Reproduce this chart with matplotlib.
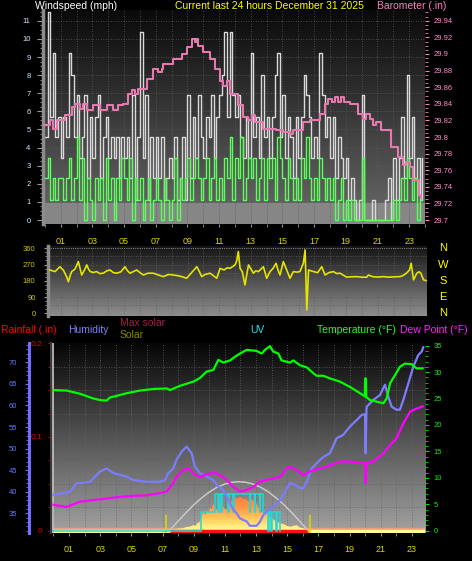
import numpy as np
import matplotlib
matplotlib.use("Agg")
import matplotlib.pyplot as plt
from matplotlib.colors import LinearSegmentedColormap
from matplotlib.ticker import MultipleLocator, FuncFormatter

plt.rcParams['font.family'] = ['Liberation Sans', 'DejaVu Sans']

# ---------------- data ----------------
# wind, one value every 10 minutes (mph)
gust_mph = [
    4.6, 11.5, 5.7, 9.2, 4.6, 5.7,   3.4, 5.7, 4.6, 9.2, 8.0, 4.6,
    6.9, 3.4, 4.6, 6.9, 2.3, 5.7,    3.4, 5.7, 6.9, 2.3, 4.6, 5.7,
    3.4, 4.6, 3.4, 4.6, 2.3, 4.6,    3.4, 4.6, 2.3, 6.9, 1.1, 4.6,
    10.4, 3.4, 6.9, 1.1, 4.6, 2.3,   4.6, 2.3, 4.6, 1.1, 2.3, 3.4,
    2.3, 4.6, 1.1, 2.3, 4.6, 1.1,    6.9, 2.3, 5.7, 3.4, 6.9, 4.6,
    3.4, 5.7, 4.6, 6.9, 3.4, 5.7,    6.9, 8.0, 10.4, 5.7, 10.4, 6.9,
    5.7, 6.9, 4.6, 3.4, 5.7, 3.4,    9.2, 4.6, 5.7, 3.4, 8.0, 4.6,
    5.7, 3.4, 5.7, 8.0, 9.2, 4.6,    6.9, 3.4, 5.7, 4.6, 2.3, 5.7,
    3.4, 5.7, 8.0, 6.9, 5.7, 3.4,    4.6, 3.4, 9.2, 6.9, 4.6, 5.7,
    3.4, 5.7, 2.3, 4.6, 3.4, 2.3,    3.4, 1.1, 2.3, 1.1, 0.0, 1.1,
    6.9, 0.0, 0.0, 0.0, 1.1, 0.0,    0.0, 0.0, 0.0, 1.1, 2.3, 0.0,
    3.4, 1.1, 3.4, 5.7, 2.3, 8.0,    3.4, 5.7, 2.3, 3.4, 1.1, 3.4,
]
avg_mph = [
    2.3, 3.4, 1.1, 2.3, 1.1, 2.3,    2.3, 1.1, 2.3, 3.4, 1.1, 2.3,
    4.6, 1.1, 3.4, 0.0, 2.3, 1.1,    0.0, 2.3, 1.1, 2.3, 0.0, 3.4,
    1.1, 2.3, 0.0, 2.3, 1.1, 3.4,    2.3, 1.1, 3.4, 0.0, 2.3, 1.1,
    2.3, 0.0, 1.1, 2.3, 0.0, 1.1,    2.3, 1.1, 0.0, 2.3, 1.1, 0.0,
    1.1, 3.4, 0.0, 2.3, 1.1, 2.3,    3.4, 1.1, 2.3, 3.4, 2.3, 1.1,
    2.3, 3.4, 1.1, 2.3, 3.4, 1.1,    2.3, 1.1, 3.4, 2.3, 4.6, 1.1,
    3.4, 2.3, 4.6, 1.1, 2.3, 3.4,    2.3, 3.4, 1.1, 2.3, 3.4, 1.1,
    3.4, 2.3, 3.4, 1.1, 4.6, 3.4,    2.3, 1.1, 3.4, 2.3, 1.1, 2.3,
    1.1, 3.4, 2.3, 4.6, 2.3, 1.1,    2.3, 1.1, 3.4, 2.3, 1.1, 2.3,
    1.1, 2.3, 0.0, 1.1, 2.3, 0.0,    1.1, 0.0, 1.1, 0.0, 0.0, 0.0,
    3.4, 0.0, 0.0, 0.0, 0.0, 0.0,    0.0, 0.0, 0.0, 0.0, 0.0, 0.0,
    1.1, 0.0, 1.1, 2.3, 1.1, 3.4,    2.3, 1.1, 2.3, 0.0, 1.1, 1.1,
]
wind_hours = np.arange(len(gust_mph)) / 6.0

baro_hours = [0.0, 0.32, 0.53, 0.74, 1.27, 1.69, 1.9, 2.22, 2.43, 2.68,
              3.06, 3.48, 3.9, 4.32, 4.64, 4.95, 5.27, 5.48, 5.69, 5.9,
              6.42, 6.84, 7.16, 7.37, 7.47, 8.1, 8.63, 8.95, 9.26, 9.45,
              9.57, 9.68, 9.99, 10.42, 10.73, 11.05, 11.26, 11.47, 11.68, 12.2,
              12.52, 12.84, 13.05, 13.26, 13.78, 14.62, 15.04, 15.46, 15.67, 16.3,
              16.73, 17.36, 17.67, 17.88, 18.1, 18.3, 18.5, 18.7, 18.9, 19.25,
              19.78, 20.1, 20.3, 20.5, 20.72, 20.93, 21.25, 21.88, 22.3, 22.61,
              22.82, 23.03, 23.25, 23.63, 23.77]
baro_in = [29.814, 29.82, 29.81, 29.82, 29.826, 29.836, 29.84, 29.834, 29.84, 29.832,
           29.838, 29.832, 29.838, 29.832, 29.838, 29.84, 29.852, 29.857, 29.852, 29.858,
           29.87, 29.882, 29.878, 29.882, 29.888, 29.894, 29.9, 29.908, 29.918, 29.914,
           29.918, 29.91, 29.902, 29.894, 29.882, 29.868, 29.862, 29.868, 29.852, 29.838,
           29.824, 29.82, 29.826, 29.818, 29.81, 29.808, 29.806, 29.804, 29.808, 29.818,
           29.82, 29.828, 29.84, 29.846, 29.842, 29.848, 29.842, 29.848, 29.842, 29.84,
           29.828, 29.822, 29.828, 29.822, 29.814, 29.818, 29.808, 29.788, 29.776, 29.766,
           29.77, 29.764, 29.748, 29.73, 29.726]

dir_hours = [0.32, 0.45, 0.64, 0.8, 0.95, 1.05, 1.16, 1.3, 1.37, 1.48,
             1.6, 1.69, 1.9, 2.11, 2.2, 2.32, 2.5, 2.64, 2.75, 2.86,
             3.05, 3.27, 3.45, 3.69, 3.9, 4.11, 4.3, 4.53, 4.8, 5.05,
             5.2, 5.37, 5.6, 5.79, 6.0, 6.21, 6.5, 6.84, 7.1, 7.47,
             7.8, 8.1, 8.4, 8.63, 8.94, 9.2, 9.58, 9.75, 9.89, 10.1,
             10.42, 10.6, 10.84, 11.05, 11.3, 11.5, 11.68, 11.99, 12.1, 12.2,
             12.31, 12.45, 12.62, 12.84, 13.0, 13.15, 13.3, 13.47, 13.78, 13.99,
             14.2, 14.4, 14.58, 14.7, 14.83, 15.04, 15.25, 15.46, 15.67, 15.9,
             16.09, 16.3, 16.41, 16.52, 16.63, 16.8, 16.94, 17.2, 17.46, 17.67,
             17.9, 18.2, 18.4, 18.62, 18.8, 19.04, 19.3, 19.67, 20.0, 20.3,
             20.4, 20.7, 21.0, 21.35, 21.7, 22.0, 22.4, 22.6, 22.8, 23.0,
             23.1, 23.25, 23.46, 23.6, 23.71, 23.88, 24.04]
dir_deg = [240, 236, 231, 245, 258, 248, 240, 215, 203, 175,
           210, 231, 245, 286, 255, 212, 240, 268, 245, 231,
           226, 231, 220, 222, 235, 240, 226, 222, 230, 258,
           236, 222, 232, 240, 225, 212, 222, 222, 214, 203,
           215, 212, 208, 203, 194, 220, 258, 230, 203, 215,
           222, 210, 194, 249, 240, 252, 249, 268, 290, 342,
           249, 230, 157, 268, 245, 222, 235, 231, 258, 194,
           231, 250, 277, 240, 212, 286, 240, 194, 231, 228,
           231, 277, 351, 18, 240, 235, 231, 225, 258, 212,
           225, 231, 220, 222, 212, 200, 202, 203, 200, 200,
           212, 202, 201, 203, 200, 202, 203, 210, 222, 240,
           277, 185, 222, 230, 222, 185, 181]
compass = ['N', 'W', 'S', 'E', 'N']

temp_hours = [0.0, 0.85, 1.71, 2.56, 2.99, 3.42, 3.63, 4.06, 4.7, 5.55,
              6.41, 7.27, 7.48, 8.12, 8.98, 9.41, 9.83, 10.26, 10.58, 10.9,
              11.33, 11.65, 11.97, 12.4, 13.04, 13.36, 13.57, 13.89, 14.1, 14.43,
              14.64, 15.18, 15.39, 15.82, 16.25, 16.67, 16.89, 17.32, 17.74, 18.38,
              19.02, 19.67, 19.98, 20.0, 20.05, 20.07, 20.31, 20.74, 21.17, 21.38,
              21.6, 21.91, 22.23, 22.55, 22.98, 23.3, 23.69]
temp_f = [26.6, 26.5, 25.9, 25.0, 24.7, 24.6, 25.2, 25.5, 26.0, 26.5,
          26.8, 26.9, 26.6, 27.4, 28.2, 28.9, 30.1, 30.4, 32.3, 31.8,
          32.2, 32.9, 33.5, 34.2, 34.0, 33.5, 34.2, 34.9, 33.9, 33.5,
          32.2, 31.8, 32.2, 31.3, 30.9, 29.8, 29.3, 29.3, 28.8, 28.2,
          27.2, 26.0, 25.4, 28.8, 28.8, 25.3, 24.7, 24.4, 24.1, 25.0,
          27.9, 29.4, 31.0, 31.6, 31.5, 30.7, 30.7]

hum_hours = [0.0, 0.53, 1.06, 1.49, 1.81, 2.35, 2.67, 2.99, 3.42, 3.85,
             4.27, 4.7, 5.13, 5.98, 6.84, 7.16, 7.37, 7.69, 7.9, 8.23,
             8.55, 8.87, 9.08, 9.4, 9.83, 10.26, 10.58, 10.9, 11.12, 11.33,
             11.55, 11.76, 11.97, 12.4, 12.61, 13.04, 13.26, 13.47, 13.79, 14.11,
             14.54, 14.86, 15.18, 15.5, 15.82, 16.04, 16.25, 16.57, 16.89, 17.32,
             17.74, 18.17, 18.6, 19.02, 19.45, 19.78, 19.99, 20.03, 20.08, 20.1,
             20.53, 20.95, 21.27, 21.49, 21.7, 22.02, 22.23, 22.45, 22.77, 23.09,
             23.41, 23.63, 23.73]
hum_pct = [39.3, 39.6, 40.0, 42.0, 42.0, 42.3, 43.5, 44.7, 45.4, 44.3,
           43.9, 43.5, 42.7, 42.3, 42.3, 42.7, 44.3, 45.4, 47.4, 49.3,
           50.5, 48.9, 45.8, 44.3, 43.5, 42.7, 41.2, 40.4, 38.9, 37.3,
           35.8, 35.0, 33.8, 33.1, 32.1, 32.1, 33.1, 34.6, 35.8, 36.5,
           38.1, 40.0, 42.0, 41.6, 40.8, 40.8, 42.3, 45.4, 46.6, 48.1,
           48.9, 52.4, 53.2, 55.1, 56.6, 57.8, 58.0, 48.9, 58.5, 59.7,
           61.3, 62.4, 64.8, 62.0, 59.7, 59.0, 59.0, 61.3, 65.1, 69.0,
           71.7, 72.5, 73.5]

dew_hours = [0.0, 0.85, 1.71, 2.56, 3.42, 4.27, 5.13, 5.98, 6.84, 7.27,
             7.59, 7.91, 8.34, 8.66, 8.98, 9.41, 9.83, 10.37, 10.69, 11.12,
             11.54, 11.97, 12.4, 12.83, 13.26, 13.68, 14.11, 14.54, 14.96, 15.18,
             15.61, 16.04, 16.46, 17.1, 17.53, 17.96, 18.39, 19.03, 19.88, 20.01,
             20.03, 20.08, 20.53, 21.17, 21.6, 22.02, 22.45, 22.88, 23.31, 23.69]
dew_f = [4.9, 4.5, 5.5, 5.8, 6.1, 6.4, 6.6, 6.7, 7.1, 7.4,
         8.6, 10.2, 11.5, 11.8, 10.8, 10.1, 10.7, 11.0, 10.5, 9.6,
         8.3, 7.4, 7.7, 8.3, 9.3, 9.6, 9.9, 10.2, 11.8, 12.1,
         11.5, 10.5, 11.2, 11.8, 12.1, 12.6, 13.1, 13.1, 12.7, 12.7,
         9.0, 12.8, 13.1, 14.6, 16.2, 17.5, 20.3, 22.5, 23.1, 23.5]

solar_hours = [7.45, 7.7, 7.9, 8.1, 8.33, 8.5, 8.76, 8.97, 9.1, 9.25,
               9.4, 9.5, 9.62, 9.75, 9.83, 9.95, 10.05, 10.15, 10.26, 10.35,
               10.47, 10.58, 10.69, 10.8, 10.9, 11.0, 11.11, 11.2, 11.33, 11.45,
               11.55, 11.65, 11.8, 11.97, 12.1, 12.2, 12.29, 12.45, 12.61, 12.72,
               12.83, 12.95, 13.04, 13.15, 13.26, 13.35, 13.47, 13.6, 13.69, 13.8,
               13.9, 14.1, 14.33, 14.5, 14.76, 15.0, 15.18, 15.4, 15.61, 15.8,
               16.04, 16.25, 16.35]
solar_wm2 = [0, 8, 10, 14, 15, 22, 25, 35, 30, 48,
             55, 90, 116, 95, 126, 110, 147, 130, 167, 140,
             126, 160, 177, 150, 147, 135, 126, 150, 167, 185,
             175, 204, 195, 208, 200, 190, 198, 185, 177, 192,
             188, 170, 167, 140, 126, 115, 106, 120, 106, 95,
             86, 70, 55, 48, 41, 30, 24, 30, 35, 20,
             14, 5, 0]
maxsol_hours = [7.45, 8.0, 8.5, 9.0, 9.5, 10.0, 10.5, 11.0, 11.5, 11.9,
                12.3, 12.8, 13.3, 13.8, 14.3, 14.8, 15.3, 15.8, 16.35]
maxsol_wm2 = [0, 58, 110, 158, 200, 237, 266, 286, 297, 300,
              297, 286, 266, 237, 200, 158, 110, 58, 0]

uv_hours = [0, 9.45, 10.37, 10.56, 10.6, 10.77, 10.81, 11.2, 11.24, 11.52,
            11.56, 12.59, 12.63, 12.91, 12.95, 13.24, 13.28, 13.47, 13.76, 13.8,
            13.98, 14.02, 14.3, 14.34, 14.53]
uv_index = [0, 1, 2, 1, 2, 1, 2, 1, 2, 1,
            2, 1, 2, 1, 2, 1, 2, 1, 0, 1,
            0, 1, 0, 1, 0]

sun_marks = [7.2, 16.46]   # sunrise / sunset markers

odd_hours = list(range(1, 24, 2))
hour_labels = ['%02d' % h for h in odd_hours]

# ---------------- figure ----------------
W, H = 472, 561
fig = plt.figure(figsize=(W / 100, H / 100), dpi=100, facecolor='black')


def px_box(x0, y0, x1, y1):
    return [x0 / W, 1 - y1 / H, (x1 - x0) / W, (y1 - y0) / H]


def gradient_bg(ax, top, bottom):
    cmap = LinearSegmentedColormap.from_list('bg', [bottom, top])
    grad = np.linspace(0, 1, 256).reshape(-1, 1)
    ax.imshow(grad, cmap=cmap, origin='lower', aspect='auto',
              extent=[0, 1, 0, 1], transform=ax.transAxes, zorder=0)


def hour_grid(ax, color):
    for h in range(1, 24):
        ax.axvline(h, color=color, lw=0.6, ls=(0, (1, 2)), zorder=0.5)


def hour_axis(ax, labels=True):
    ax.set_xticks(odd_hours)
    ax.set_xticks(range(0, 25), minor=True)
    if labels:
        ax.set_xticklabels(hour_labels)
    else:
        ax.set_xticklabels([])
    ax.tick_params(axis='x', which='both', length=2, color='#9a9a9a',
                   labelcolor='#d8d800', labelsize=6.5, pad=7)


def hide_spines(ax, keep=()):
    for name, sp in ax.spines.items():
        sp.set_visible(name in keep)


# ---- panel 1: wind speed + barometer ----
ax1 = fig.add_axes(px_box(43, 10, 425, 224))
ax1.set_facecolor('black')
gradient_bg(ax1, '#0a0a0a', '#6a6a6a')
ax1.axhspan(-0.5, 0.95, color='#868686', zorder=0.3)
hour_grid(ax1, '#5a5a5a')
for v in range(1, 12):
    ax1.axhline(v, color='#5a5a5a', lw=0.6, ls=(0, (1, 2)), zorder=0.5)
ax1.step(wind_hours, gust_mph, where='post', color='#dadada', lw=1.0, zorder=2)
ax1.step(wind_hours, avg_mph, where='post', color='#5cff5c', lw=1.0, zorder=3)
ax1.set_xlim(-0.12, 23.98)
ax1.set_ylim(-0.22, 11.6)
hour_axis(ax1)
ax1.yaxis.set_major_locator(MultipleLocator(1))
ax1.yaxis.set_minor_locator(MultipleLocator(0.25))
ax1.tick_params(axis='y', which='major', length=4, color='#9a9a9a',
                labelcolor='#d4e8ff', labelsize=5.5, pad=5)
ax1.tick_params(axis='y', which='minor', length=2.5, color='#9a9a9a')
hide_spines(ax1, keep=('left',))
ax1.spines['left'].set_color('#8c8c8c')
ax1.spines['left'].set_linewidth(2.5)

ax1b = ax1.twinx()
ax1b.step(baro_hours, baro_in, where='post', color='#e67aae', lw=1.5, zorder=4)
ax1b.set_ylim(29.6952, 29.953)
ax1b.yaxis.set_major_locator(MultipleLocator(0.02))
ax1b.yaxis.set_minor_locator(MultipleLocator(0.005))
ax1b.yaxis.set_major_formatter(FuncFormatter(lambda v, p: ('%.2f' % v).rstrip('0')))
ax1b.tick_params(axis='y', which='major', length=3, color='#ff80c0',
                 labelcolor='#ff8ccc', labelsize=5.5, pad=3)
ax1b.tick_params(axis='y', which='minor', length=2, color='#ff80c0')
hide_spines(ax1b)

fig.text(35 / W, 1 - 6 / H, 'Windspeed (mph)', color='white', fontsize=7.5, va='center')
fig.text(175 / W, 1 - 6 / H, 'Current last 24 hours December 31 2025', color='#ffff00',
         fontsize=7.5, va='center')
fig.text(377 / W, 1 - 6 / H, 'Barometer (.in)', color='#ff80c0', fontsize=7.5, va='center')

# ---- panel 2: wind direction ----
ax2 = fig.add_axes(px_box(48, 246, 427, 316))
gradient_bg(ax2, '#141414', '#8e8e8e')
hour_grid(ax2, '#606060')
for v in range(45, 360, 45):
    ax2.axhline(v, color='#5e5e5e', lw=0.6, ls=(0, (1, 2)), zorder=0.5)
ax2.axhline(360, color='#7a7a7a', lw=0.8, ls=(0, (1, 1)), zorder=0.5)
ax2.plot(dir_hours, dir_deg, color='#e4e400', lw=1.2, zorder=3)
ax2.set_xlim(0.196, 24.1)
ax2.set_ylim(-15, 372.7)
ax2.set_xticks([])
ax2.set_yticks([0, 90, 180, 270, 360])
ax2.yaxis.set_minor_locator(MultipleLocator(22.5))
ax2.tick_params(axis='y', which='major', length=3, color='#9a9a9a',
                labelcolor='#c8c800', labelsize=5.5, pad=6)
ax2.tick_params(axis='y', which='minor', length=2, color='#9a9a9a')
hide_spines(ax2, keep=('left',))
ax2.spines['left'].set_color('#8c8c8c')
ax2.spines['left'].set_linewidth(2.5)
for deg, name in zip([360, 270, 180, 90, 0], compass):
    ax2.text((443 - 48) / 379, deg, name, transform=ax2.get_yaxis_transform(),
             color='#ffff00', fontsize=8, ha='center', va='center')

# ---- panel 3: rain / humidity / solar / uv / temperature / dew point ----
ax3 = fig.add_axes(px_box(50.5, 343, 425, 533))
gradient_bg(ax3, '#060606', '#a2a2a2')
hour_grid(ax3, '#666666')
for v in np.arange(0.025, 0.2, 0.025):
    ax3.axhline(v, color='#5e5e5e', lw=0.6, ls=(0, (1, 2)), zorder=0.5)
ax3.axhspan(0.0007, 0.0029, color='#f09a86', zorder=0.6)
ax3.axhspan(-0.0014, 0.0007, color='#ffff90', zorder=0.6)
ax3.axvline(0, color='#bcbcbc', lw=1.3, zorder=0.7)
ax3.vlines(sun_marks, -0.003, 0.017, color='#d8d800', lw=1.2, zorder=0.8)
ax3.set_xlim(-0.186, 23.84)
ax3.set_ylim(-0.0026, 0.2003)
hour_axis(ax3)
ax3.set_yticks([0, 0.1, 0.2])
ax3.set_yticklabels(['0', '0.1', '0.2'])
ax3.yaxis.set_minor_locator(MultipleLocator(0.025))
ax3.tick_params(axis='y', which='both', length=2, color='#d00000',
                labelcolor='#e00000', labelsize=6, pad=3.5)
hide_spines(ax3, keep=('left',))
ax3.spines['left'].set_color('#3a3a3a')
ax3.spines['left'].set_linewidth(1.5)

# solar (hidden scale)
ax_s = ax3.twinx()
sol_poly = ax_s.fill_between(solar_hours, 0, solar_wm2, color='none', lw=0)
sol_cmap = LinearSegmentedColormap.from_list('sol', ['#ffff98', '#ffd060', '#ff9a48', '#ff8040'])
sol_img = ax_s.imshow(np.linspace(0, 1, 256).reshape(-1, 1), cmap=sol_cmap, origin='lower',
                      aspect='auto', extent=[min(solar_hours), max(solar_hours), 0, max(solar_wm2)],
                      zorder=1)
sol_img.set_clip_path(sol_poly.get_paths()[0], transform=ax_s.transData)
ax_s.hlines(0, solar_hours[0], solar_hours[-1], color='#ff1010', lw=2.5, zorder=2)
ax_s.plot(maxsol_hours, maxsol_wm2, color='#c8c8c8', lw=1.1, zorder=3)
ax_s.set_xlim(-0.186, 23.84)
ax_s.set_ylim(-14.1, 1149)
ax_s.set_yticks([])
hide_spines(ax_s)

# UV (hidden scale)
ax_uv = ax3.twinx()
ax_uv.step(uv_hours, uv_index, where='post', color='#22d8d8', lw=1.1, zorder=3)
ax_uv.set_ylim(-0.124, 10.15)
ax_uv.set_yticks([])
hide_spines(ax_uv)

# humidity, axis moved to the far left
ax_h = ax3.twinx()
ax_h.plot(hum_hours, hum_pct, color='#7c7cff', lw=1.6, zorder=3)
ax_h.set_ylim(30.43, 74.48)
ax_h.yaxis.tick_left()
hide_spines(ax_h, keep=('left',))
ax_h.spines['left'].set_position(('axes', (29 - 50.5) / (425 - 50.5)))
ax_h.spines['left'].set_color('#6f6fff')
ax_h.spines['left'].set_linewidth(2.2)
ax_h.set_yticks(range(35, 75, 5))
ax_h.yaxis.set_minor_locator(MultipleLocator(1))
ax_h.tick_params(axis='y', which='major', length=3, color='#6f6fff',
                 labelcolor='#5f7cff', labelsize=5.5, pad=5.5)
ax_h.tick_params(axis='y', which='minor', length=2, color='#6f6fff')

# temperature + dew point on the right axis
ax_t = ax3.twinx()
ax_t.plot(dew_hours, dew_f, color='#ff00ff', lw=1.6, zorder=3)
ax_t.plot(temp_hours, temp_f, color='#00ff00', lw=1.6, zorder=4)
ax_t.set_ylim(-0.435, 35.5)
ax_t.set_yticks(range(0, 36, 5))
ax_t.yaxis.set_minor_locator(MultipleLocator(1))
ax_t.tick_params(axis='y', which='major', length=3, color='#00e000',
                 labelcolor='#20e020', labelsize=5.5, pad=3)
ax_t.tick_params(axis='y', which='minor', length=2, color='#00e000')
hide_spines(ax_t)

ax3.set_xlim(-0.186, 23.84)

fig.text(1 / W, 1 - 330 / H, 'Rainfall (.in)', color='#ff0000', fontsize=7.5, va='center')
fig.text(68 / W, 1 - 330 / H, 'Humidity', color='#8080ff', fontsize=7.5, va='center')
fig.text(120 / W, 1 - 323 / H, 'Max solar', color='#a0204c', fontsize=7.5, va='center')
fig.text(120 / W, 1 - 335 / H, 'Solar', color='#8a8a00', fontsize=7.5, va='center')
fig.text(250 / W, 1 - 330 / H, 'UV', color='#22e6e6', fontsize=7.5, va='center')
fig.text(317 / W, 1 - 330 / H, 'Temperature (°F)', color='#22ff22', fontsize=7.5, va='center')
fig.text(400 / W, 1 - 330 / H, 'Dew Point (°F)', color='#ff22ff', fontsize=7.5, va='center')

fig.savefig('out.png', dpi=100, facecolor='black')
